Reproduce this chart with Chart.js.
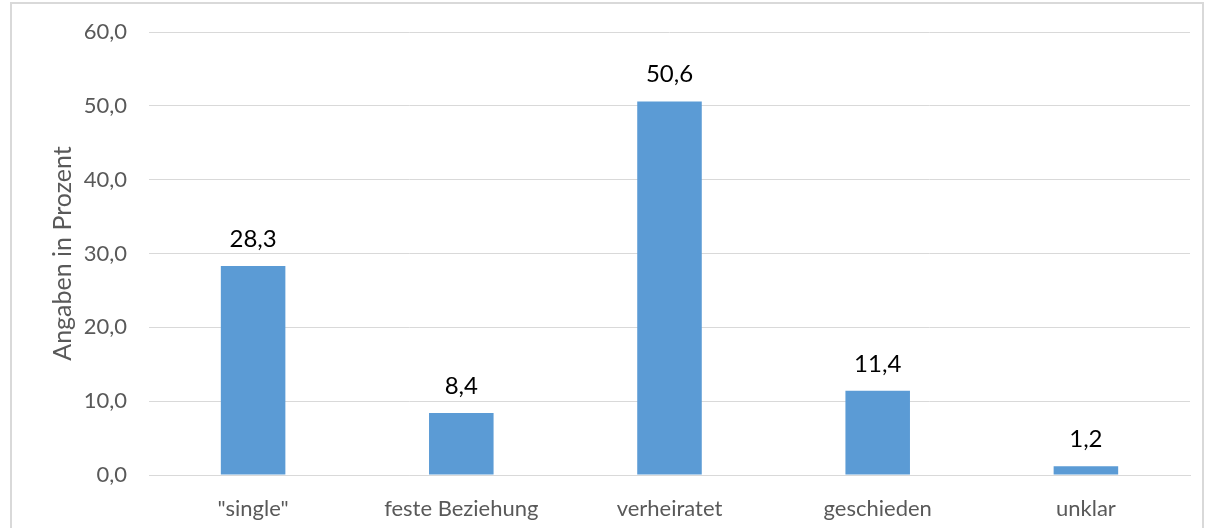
<!DOCTYPE html>
<html>
<head>
<meta charset="utf-8">
<script src="https://cdn.jsdelivr.net/npm/chart.js@4.4.1/dist/chart.umd.min.js"></script>
<style>
  html, body { margin: 0; padding: 0; background: #fff; }
  #wrap { position: relative; width: 1215px; height: 528px; overflow: hidden; }
  #frame { position: absolute; left: 10px; top: 2px; width: 1194px; height: 560px; border: 2px solid #d9d9d9; box-sizing: border-box; }
  canvas { position: absolute; left: 0; top: 0; }
</style>
</head>
<body>
<div id="wrap">
  <div id="frame"></div>
  <canvas id="chart" width="1215" height="528"></canvas>
</div>
<script>
const categories = ['"single"', 'feste Beziehung', 'verheiratet', 'geschieden', 'unklar'];
const percentValues = [28.3, 8.4, 50.6, 11.4, 1.2];
const yTicks = [0, 10, 20, 30, 40, 50, 60];

const fmt = v => v.toFixed(1).replace('.', ',');
const FONT = 'Lato, "Open Sans", sans-serif';

// value labels above each bar
const barLabels = {
    id: 'barLabels',
    afterDatasetsDraw(chart) {
        const ctx = chart.ctx;
        const meta = chart.getDatasetMeta(0);
        ctx.save();
        ctx.font = '24px ' + FONT;
        ctx.fillStyle = '#000';
        ctx.textAlign = 'center';
        ctx.textBaseline = 'alphabetic';
        meta.data.forEach((bar, i) => {
            ctx.fillText(fmt(percentValues[i]), bar.x, bar.y - 19);
        });
        ctx.restore();
    }
};

new Chart(document.getElementById('chart').getContext('2d'), {
    type: 'bar',
    data: {
        labels: categories,
        datasets: [{
            data: percentValues,
            backgroundColor: '#5b9bd5',
            categoryPercentage: 1,
            barPercentage: 0.31
        }]
    },
    options: {
        responsive: false,
        animation: false,
        layout: { padding: { left: 48, right: 25, top: 32, bottom: 0 } },
        plugins: {
            legend: { display: false },
            tooltip: { enabled: false }
        },
        scales: {
            x: {
                grid: { display: false, drawTicks: false },
                border: { color: '#d9d9d9', width: 1 },
                ticks: {
                    color: '#595959',
                    font: { family: FONT, size: 22 },
                    padding: 21,
                    maxRotation: 0
                },
                afterFit: s => { s.height = 53; s.paddingLeft = 0; s.paddingRight = 0; }
            },
            y: {
                min: 0,
                max: 60,
                afterBuildTicks: s => { s.ticks = yTicks.map(v => ({ value: v })); },
                grid: { color: '#d9d9d9', lineWidth: 1, drawTicks: false },
                border: { display: false },
                ticks: {
                    color: '#595959',
                    font: { family: FONT, size: 22 },
                    padding: 22,
                    callback: v => fmt(v)
                },
                title: {
                    display: true,
                    text: 'Angaben in Prozent',
                    color: '#595959',
                    font: { family: FONT, size: 25 },
                    padding: { top: 0, bottom: 0 }
                },
                afterFit: s => { s.width = 101; s.paddingTop = 0; s.paddingBottom = 0; }
            }
        }
    },
    plugins: [barLabels]
});
</script>
</body>
</html>
